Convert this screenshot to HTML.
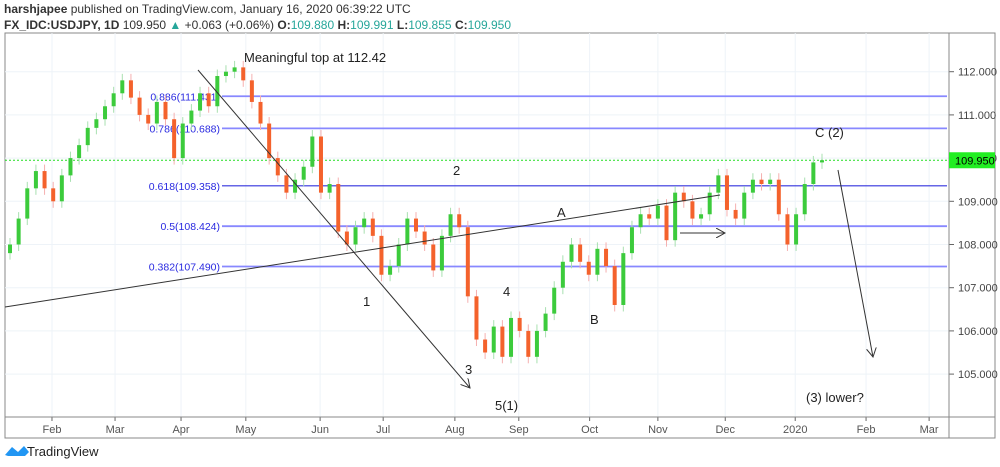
<!DOCTYPE html>
<html><head><meta charset="utf-8"><style>
body{margin:0;background:#fff;width:1000px;height:467px;overflow:hidden;font-family:"Liberation Sans",sans-serif}
#hdr{position:absolute;left:4px;top:1px;font-size:12px;color:#333;line-height:16px}
.t{color:#26a69a}
svg{position:absolute;left:0;top:0}
</style></head><body>
<div id="hdr">
<div><b>harshjapee</b> published on TradingView.com, January 16, 2020 06:39:22 UTC</div>
<div><b>FX_IDC:USDJPY, 1D</b> 109.950 <span style="color:#26a69a">▲</span> +0.063 (+0.06%) <b>O:</b><span class="t">109.880</span> <b>H:</b><span class="t">109.991</span> <b>L:</b><span class="t">109.855</span> <b>C:</b><span class="t">109.950</span></div>
</div>
<svg id="c" width="1000" height="467"></svg>
<script>
const closes=[108.0,108.6,109.3,109.7,109.3,109.0,109.6,110.0,110.3,110.7,110.9,111.2,111.5,111.8,111.4,111.0,110.8,111.3,110.9,110.0,110.8,111.1,111.5,111.2,111.9,112.0,112.1,111.8,111.3,110.8,110.0,109.6,109.2,109.5,109.8,110.5,109.2,109.4,108.3,108.0,108.4,108.6,108.2,107.3,107.5,108.0,108.6,108.3,108.0,107.4,108.2,108.7,108.4,106.8,105.8,105.5,106.1,105.4,106.3,106.0,105.4,106.0,106.4,107.0,107.6,108.0,107.6,107.3,107.9,107.5,106.6,107.8,108.4,108.7,108.6,108.9,108.1,109.2,109.0,108.6,108.7,109.2,109.6,108.8,108.6,109.2,109.5,109.4,109.5,108.7,108.0,108.7,109.4,109.9,109.95];
const firstOpen=107.8;
const months=["Feb","Mar","Apr","May","Jun","Jul","Aug","Sep","Oct","Nov","Dec","2020","Feb","Mar"];
const monthIdx=[4.86,12.16,19.8,27.3,35.9,43.2,51.5,58.9,67.1,75.0,82.8,90.9,99.1,106.4];
const priceTicks=[105,106,107,108,109,110,111,112];
const fibLevels=[0.886,0.786,0.618,0.5,0.382];
const fibPrices=[111.431,110.688,109.358,108.424,107.490];
const lastPrice=109.950;
const NS="http://www.w3.org/2000/svg",svg=document.getElementById('c');
const L=5,R=949,T=33,B=417;
const y=p=>71.7+(112-p)*43.2;
const x=i=>10+i*(822-10)/(closes.length-1);
function el(t,a,p){const e=document.createElementNS(NS,t);for(const k in a)e.setAttribute(k,a[k]);(p||svg).appendChild(e);return e;}
let f=el('rect',{x:L,y:T,width:990,height:405,fill:'none',stroke:'#888'});

priceTicks.forEach(p=>{let g=el('line',{x1:L,x2:R,y1:y(p),y2:y(p),stroke:'#eef3f8'});

let tk=el('line',{x1:R,x2:R+5,y1:y(p),y2:y(p),stroke:'#666'});

let t=el('text',{x:R+9,y:y(p)+4,'font-size':11,fill:'#444'});t.textContent=p.toFixed(3);
});
months.forEach((m,k)=>{const xx=x(monthIdx[k]);
let g=el('line',{x1:xx,x2:xx,y1:T,y2:B,stroke:'#eef3f8'});

let tk=el('line',{x1:xx,x2:xx,y1:B,y2:B+4,stroke:'#666'});

let t=el('text',{x:xx,y:B+16,'font-size':11,fill:'#555','text-anchor':'middle'});t.textContent=m;
});
let ax=el('line',{x1:L,x2:995,y1:B,y2:B,stroke:'#888'});
let ay=el('line',{x1:R,x2:R,y1:T,y2:438,stroke:'#888'});
fibPrices.forEach((p,k)=>{let ln=el('line',{x1:222,x2:R-2,y1:y(p),y2:y(p),stroke:k==2?'#3333dd':'#8888ff','stroke-width':k==2?1.2:1.8});

let t=el('text',{x:220,y:y(p)+4,'font-size':10.5,fill:'#2929e0','text-anchor':'end'});t.textContent=fibLevels[k]+'('+p.toFixed(3)+')';
});
let lp=el('line',{x1:L,x2:R,y1:y(lastPrice),y2:y(lastPrice),stroke:'#22dd22','stroke-dasharray':'2,2'});

closes.forEach((c,i)=>{const o=i?closes[i-1]:firstOpen,up=c>=o,col=up?'#3ccb3c':'#f4622c';
const hi=Math.max(o,c)+0.15,lo=Math.min(o,c)-0.15,xx=x(i);
let w=el('line',{x1:xx,x2:xx,y1:y(hi),y2:y(lo),stroke:up?'#a8e0b0':'#f5b0b0'});

let r=el('rect',{x:xx-2,y:y(Math.max(o,c)),width:4,height:Math.max(1,Math.abs(y(o)-y(c))),fill:col});
});
const defs=el('defs',{});const mk=el('marker',{id:'ah',markerWidth:10,markerHeight:10,refX:9,refY:5,orient:'auto',markerUnits:'userSpaceOnUse'},defs);
el('path',{d:'M0,0 L9,5 L0,10',fill:'none',stroke:'#333'},mk);
[[198,70,470,388,1],[5,307,720,195,0],[680,233,725,233,1],[838,170,873,357,1]].forEach(a=>{
let l=el('line',{x1:a[0],y1:a[1],x2:a[2],y2:a[3],stroke:'#333','stroke-width':1});if(a[4])l.setAttribute('marker-end','url(#ah)');
});
[["Meaningful top at 112.42",244,62],["1",363,306],["2",453,175],["3",465,374],["4",503,296],["5(1)",495,410],["A",557,217],["B",590,324],["C (2)",815,137],["(3) lower?",806,402]].forEach(a=>{
let t=el('text',{x:a[1],y:a[2],'font-size':13,fill:'#222'});t.textContent=a[0];
});
let pb=el('rect',{x:R,y:y(lastPrice)-8,width:46,height:16,fill:'#22ee22'});
let pt=el('text',{x:R+6,y:y(lastPrice)+4,'font-size':11,fill:'#000'});pt.textContent=lastPrice.toFixed(3);

let lg=el('path',{d:'M5,455 L12,447 L18,452 L24,446 L29,452 L25,456 L8,456Z',fill:'#2196f3'});
let lt=el('text',{x:27,y:456,'font-size':13,fill:'#222'});lt.textContent='TradingView';

</script>
</body></html>
